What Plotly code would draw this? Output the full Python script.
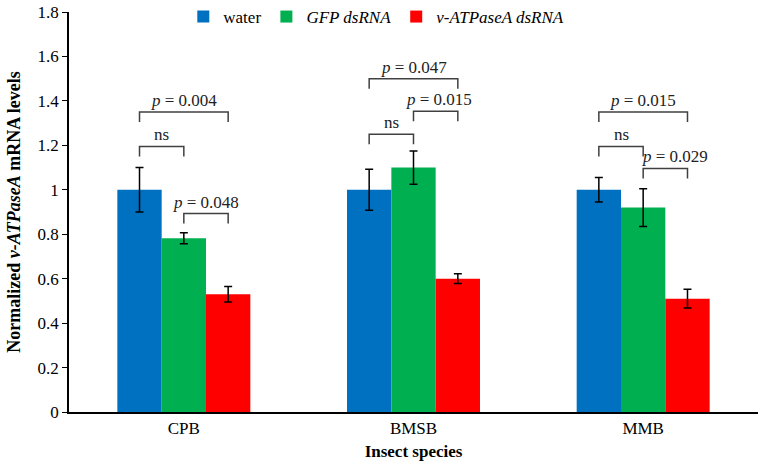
import plotly.graph_objects as go

species = ["CPB", "BMSB", "MMB"]
treatments = ["water", "<i>GFP dsRNA</i>", "<i>v-ATPaseA dsRNA</i>"]
colors = ["#0070C0", "#00B050", "#FF0000"]

water = [1.0, 1.0, 1.0]
water_err = [0.1, 0.092, 0.055]
gfp = [0.782, 1.10, 0.92]
gfp_err = [0.025, 0.075, 0.085]
vatp = [0.53, 0.60, 0.51]
vatp_err = [0.035, 0.022, 0.042]

# brackets: (species index, from treatment, to treatment, level, label)
brackets = [
    (0, 0, 2, 1.35, "<i>p</i> = 0.004"),
    (0, 0, 1, 1.195, "ns"),
    (0, 1, 2, 0.893, "<i>p</i> = 0.048"),
    (1, 0, 2, 1.50, "<i>p</i> = 0.047"),
    (1, 1, 2, 1.353, "<i>p</i> = 0.015"),
    (1, 0, 1, 1.25, "ns"),
    (2, 0, 2, 1.35, "<i>p</i> = 0.015"),
    (2, 0, 1, 1.195, "ns"),
    (2, 1, 2, 1.096, "<i>p</i> = 0.029"),
]
leg_drop = 0.045
label_xshift = {4: 3, 8: 10}

FONT = "Times New Roman, Liberation Serif, serif"
bw = 0.193
offsets = [-bw, 0.0, bw]
series = [(water, water_err), (gfp, gfp_err), (vatp, vatp_err)]

fig = go.Figure()
for k, (vals, errs) in enumerate(series):
    fig.add_trace(go.Bar(
        x=[i + offsets[k] for i in range(len(species))],
        y=vals, width=bw, name=treatments[k],
        marker=dict(color=colors[k], line=dict(width=0)),
        error_y=dict(type="data", array=errs, color="black", thickness=1.5, width=4),
    ))

for j, (ci, a, b, lvl, lab) in enumerate(brackets):
    x0 = ci + offsets[a]
    x1 = ci + offsets[b]
    fig.add_trace(go.Scatter(
        x=[x0, x0, x1, x1], y=[lvl - leg_drop, lvl, lvl, lvl - leg_drop],
        mode="lines", line=dict(color="#404040", width=1.5),
        showlegend=False, hoverinfo="skip",
    ))
    fig.add_annotation(x=(x0 + x1) / 2, y=lvl, text=lab, showarrow=False,
                       yanchor="bottom", yshift=0, xshift=label_xshift.get(j, 0),
                       font=dict(family=FONT, size=17, color="#222"))

fig.update_layout(
    width=764, height=471,
    margin=dict(l=69, r=6, t=12, b=59, autoexpand=False),
    plot_bgcolor="white", paper_bgcolor="white",
    barmode="overlay",
    font=dict(family=FONT, size=17, color="black"),
    legend=dict(orientation="h", x=0.446, xanchor="center", y=0.9875, yanchor="middle",
                font=dict(size=17), bgcolor="rgba(0,0,0,0)"),
    xaxis=dict(range=[-0.5, 2.5], tickvals=[0, 1, 2], ticktext=species,
               showline=True, linecolor="black", linewidth=1.5, ticks="",
               showgrid=False, zeroline=False,
               title=dict(text="<b>Insect species</b>", font=dict(size=17), standoff=8)),
    yaxis=dict(range=[0, 1.8], dtick=0.2, tickformat="~g",
               showline=True, linecolor="black", linewidth=1.5,
               ticks="outside", ticklen=5, tickcolor="black",
               ticklabeloverflow="allow",
               showgrid=False, zeroline=False,
               title=dict(text="<b>Normalized <i>v-ATPaseA</i> mRNA levels</b>",
                          font=dict(size=18), standoff=12)),
)

fig.write_html("out.html", config={"displayModeBar": False},
               post_script="document.body.style.margin='0px';")
